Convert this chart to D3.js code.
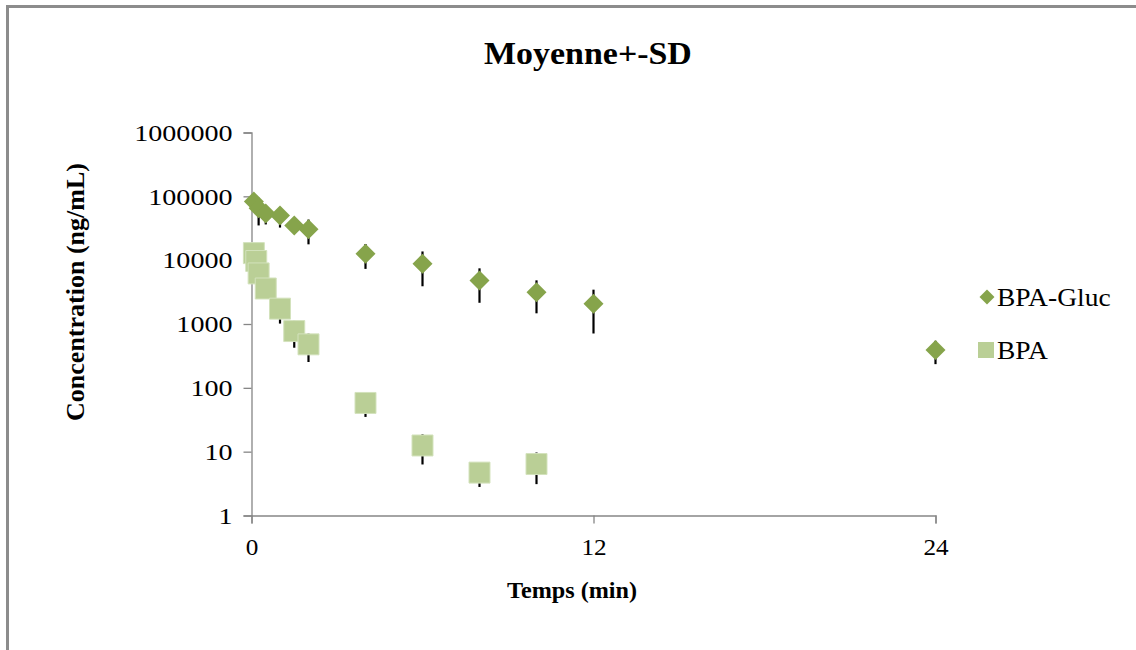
<!DOCTYPE html>
<html>
<head>
<meta charset="utf-8">
<script src="https://cdn.jsdelivr.net/npm/d3@7"></script>
<style>
  html, body { margin: 0; padding: 0; background: #fff; }
  svg { display: block; }
  text { font-family: "Liberation Serif", "Times New Roman", serif; fill: #000; }
</style>
</head>
<body>
<svg id="chart" width="1136" height="650"></svg>
<script>
// Sampling times (min)
const glucTimes = [0.083, 0.25, 0.5, 1, 1.5, 2, 4, 6, 8, 10, 12, 24];
// BPA-Gluc mean concentration (ng/mL) and SD
const glucMean = [83000, 65000, 54000, 50000, 35000, 30500, 12600, 8800, 4800, 3150, 2080, 390];
const glucSD   = [12000, 30000, 17700, 17600, 7000, 12800, 5300, 4900, 2650, 1680, 1370, 155];

const bpaTimes = [0.083, 0.167, 0.25, 0.5, 1, 1.5, 2, 4, 6, 8, 10];
// BPA mean concentration (ng/mL) and SD
const bpaMean = [12900, 9700, 6200, 3600, 1740, 775, 480, 58, 12.5, 4.7, 6.4];
const bpaSD   = [2500, 1900, 1200, 700, 725, 350, 226, 23, 6.2, 1.9, 3.3];

const xTicks = [0, 12, 24];
const yTicks = [1, 10, 100, 1000, 10000, 100000, 1000000];

const chartTitle = "Moyenne+-SD";
const xTitle = "Temps (min)";
const yTitle = "Concentration (ng/mL)";
const seriesNames = ["BPA-Gluc", "BPA"];

const colGluc = "#86a44b";
const colBpa = "#bacf96";
const axisCol = "#868686";
const serif = "'Liberation Serif', 'Times New Roman', serif";

const svg = d3.select("#chart");

// Widen a text element horizontally while keeping its anchor
function widen(sel, k) {
  sel.each(function () {
    const w = this.getComputedTextLength();
    d3.select(this).attr("textLength", w * k).attr("lengthAdjust", "spacingAndGlyphs");
  });
}

// Outer chart frame
svg.append("path")
  .attr("d", "M7.5,650 L7.5,6.5 L1136,6.5")
  .attr("fill", "none").attr("stroke", "#8c8c8c").attr("stroke-width", 3);

const x = d3.scaleLinear().domain([0, 24]).range([251.5, 935.5]);
const y = d3.scaleLog().domain([1, 1000000]).range([515.5, 132.5]);

// Axes
const xAxis = svg.append("g").attr("transform", "translate(0,515.5)")
  .call(d3.axisBottom(x).tickValues(xTicks).tickSize(8).tickFormat(d3.format("d")));
const yAxis = svg.append("g").attr("transform", "translate(251.5,0)")
  .call(d3.axisLeft(y).tickValues(yTicks).tickSize(8).tickFormat(d3.format("d")));

[xAxis, yAxis].forEach(g => {
  g.attr("font-family", serif);
  g.select(".domain").attr("stroke", axisCol).attr("stroke-width", 1.3);
  g.selectAll(".tick line").attr("stroke", axisCol).attr("stroke-width", 1.3);
  g.selectAll(".tick text")
    .style("font-family", serif)
    .style("font-size", "24px").attr("fill", "#000");
});
xAxis.selectAll(".tick text").attr("y", 22);
yAxis.selectAll(".tick text").attr("x", -19);
widen(yAxis.selectAll(".tick text"), 1.17);
widen(xAxis.selectAll(".tick text"), 1.05);

// Titles
svg.append("text").attr("x", 588).attr("y", 64)
  .attr("text-anchor", "middle").style("font-size", "32px").style("font-weight", "bold")
  .text(chartTitle).call(widen, 1.06);
svg.append("text").attr("x", 572).attr("y", 598)
  .attr("text-anchor", "middle").style("font-size", "23px").style("font-weight", "bold")
  .text(xTitle).call(widen, 1.05);
svg.append("text").attr("transform", "translate(84,292) rotate(-90)")
  .attr("text-anchor", "middle").style("font-size", "26px").style("font-weight", "bold")
  .text(yTitle);

const gluc = glucTimes.map((t, i) => ({ t, m: glucMean[i], sd: glucSD[i] }));
const bpa = bpaTimes.map((t, i) => ({ t, m: bpaMean[i], sd: bpaSD[i] }));

// Error bars (mean ± SD)
function errBars(data) {
  svg.append("g").selectAll("line").data(data).join("line")
    .attr("x1", d => x(d.t)).attr("x2", d => x(d.t))
    .attr("y1", d => y(d.m + d.sd))
    .attr("y2", d => y(Math.max(d.m - d.sd, 1e-3)))
    .attr("stroke", "#000").attr("stroke-width", 2.2);
}
errBars(gluc);
errBars(bpa);

const diamond = d3.symbol(d3.symbolSquare, 200)();
const square = d3.symbol(d3.symbolSquare, 440)();

svg.append("g").selectAll("path").data(bpa).join("path")
  .attr("d", square)
  .attr("transform", d => `translate(${x(d.t)},${y(d.m)})`)
  .attr("fill", colBpa).attr("stroke", "#d3e2bc").attr("stroke-width", 1);

svg.append("g").selectAll("path").data(gluc).join("path")
  .attr("d", diamond)
  .attr("transform", d => `translate(${x(d.t)},${y(d.m)}) rotate(45)`)
  .attr("fill", colGluc);

// Legend
const legend = svg.append("g");
legend.append("path").attr("d", d3.symbol(d3.symbolSquare, 112)())
  .attr("transform", "translate(987,297) rotate(45)").attr("fill", colGluc);
legend.append("text").attr("x", 997).attr("y", 306).style("font-size", "25px")
  .text(seriesNames[0]).call(widen, 1.1);
legend.append("path").attr("d", d3.symbol(d3.symbolSquare, 256)())
  .attr("transform", "translate(986,350)").attr("fill", colBpa);
legend.append("text").attr("x", 997).attr("y", 359).style("font-size", "25px")
  .text(seriesNames[1]).call(widen, 1.1);
</script>
</body>
</html>
